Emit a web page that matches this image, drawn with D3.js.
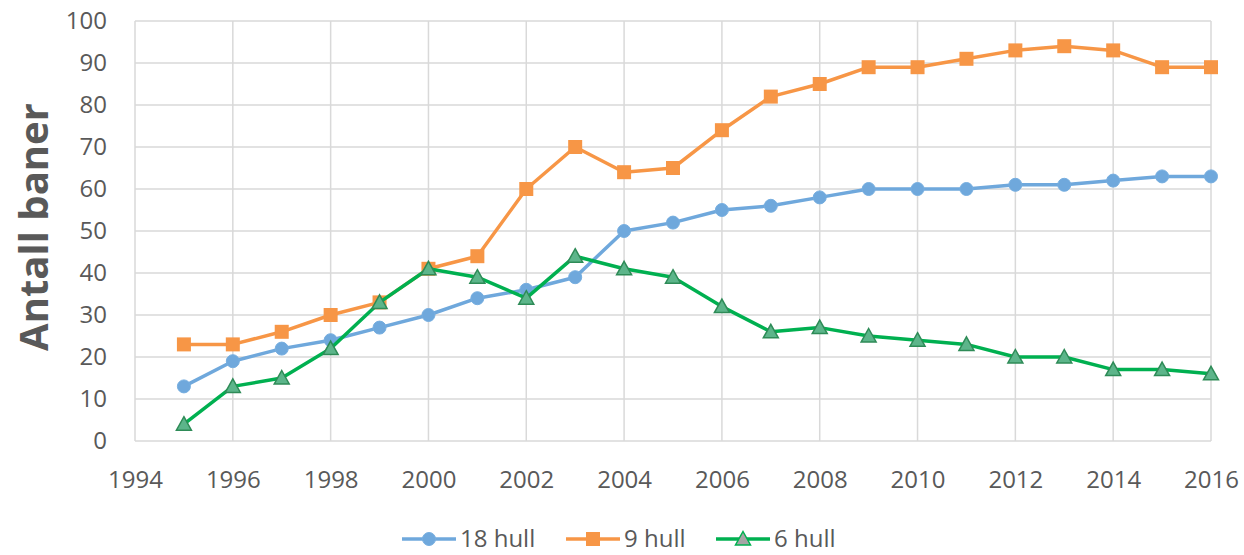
<!DOCTYPE html>
<html>
<head>
<meta charset="utf-8">
<script src="https://cdn.jsdelivr.net/npm/d3@7"></script>
<style>
  body { margin: 0; background: #fff; }
  text { font-family: "Open Sans", "Liberation Sans", sans-serif; fill: #595959; }
</style>
</head>
<body>
<script>
const years = d3.range(1995, 2017);
const hull18 = [13, 19, 22, 24, 27, 30, 34, 36, 39, 50, 52, 55, 56, 58, 60, 60, 60, 61, 61, 62, 63, 63];
const hull9 = [23, 23, 26, 30, 33, 41, 44, 60, 70, 64, 65, 74, 82, 85, 89, 89, 91, 93, 94, 93, 89, 89];
const hull6 = [4, 13, 15, 22, 33, 41, 39, 34, 44, 41, 39, 32, 26, 27, 25, 24, 23, 20, 20, 17, 17, 16];
const xTicks = d3.range(1994, 2017, 2);
const yTicks = d3.range(0, 101, 10);

const width = 1244, height = 555;
const m = {left: 135, right: 33, top: 21, bottom: 114};

const svg = d3.select("body").append("svg")
  .attr("width", width)
  .attr("height", height);

const x = d3.scaleLinear().domain([1994, 2016]).range([m.left, width - m.right]);
const y = d3.scaleLinear().domain([0, 100]).range([height - m.bottom, m.top]);

// grid
svg.append("g")
  .selectAll("line.h")
  .data(yTicks)
  .enter().append("line")
  .attr("x1", x(1994)).attr("x2", x(2016))
  .attr("y1", d => y(d)).attr("y2", d => y(d))
  .attr("stroke", "#d9d9d9").attr("stroke-width", 1.5);

svg.append("g")
  .selectAll("line.v")
  .data(xTicks)
  .enter().append("line")
  .attr("x1", d => x(d)).attr("x2", d => x(d))
  .attr("y1", y(0)).attr("y2", y(100))
  .attr("stroke", "#d9d9d9").attr("stroke-width", 1.5);

// axes
const yAxis = d3.axisLeft(y).tickValues(yTicks).tickSize(0).tickPadding(28);
svg.append("g")
  .attr("transform", "translate(" + m.left + ",0)")
  .call(yAxis)
  .call(g => g.select(".domain").remove())
  .selectAll("text").style("font-size", "24px").attr("fill", "#595959");

const xAxis = d3.axisBottom(x).tickValues(xTicks).tickFormat(d3.format("d")).tickSize(0).tickPadding(30);
svg.append("g")
  .attr("transform", "translate(0," + y(0) + ")")
  .call(xAxis)
  .call(g => g.select(".domain").remove())
  .selectAll("text").style("font-size", "24px").attr("fill", "#595959");

svg.append("text")
  .attr("transform", "translate(48," + (y(50) - 4) + ") rotate(-90)")
  .style("text-anchor", "middle")
  .style("font-size", "40px")
  .style("font-weight", "bold")
  .text("Antall baner");

const series = [
  {name: "18 hull", values: hull18, color: "#6fa8dc", marker: "circle"},
  {name: "9 hull", values: hull9, color: "#f79646", marker: "square"},
  {name: "6 hull", values: hull6, color: "#00b050", marker: "triangle"}
];

const line = d3.line().x((d, i) => x(years[i])).y(d => y(d));

function drawMarker(g, type, cx, cy, legend) {
  if (type === "circle") {
    g.append("circle").attr("cx", cx).attr("cy", cy).attr("r", 6.5)
      .attr("fill", "#6fa8dc").attr("stroke", "#76aee0").attr("stroke-width", 1);
  } else if (type === "square") {
    g.append("rect").attr("x", cx - 7).attr("y", cy - 7).attr("width", 14).attr("height", 14)
      .attr("fill", "#f79646");
  } else {
    const s = 7.5;
    g.append("path")
      .attr("d", `M${cx},${cy - s}L${cx + s},${cy + s * 0.8}L${cx - s},${cy + s * 0.8}Z`)
      .attr("fill", legend ? "#a5a5a5" : "#5cb58a")
      .attr("stroke", legend ? "#00b050" : "#2e8b57").attr("stroke-width", 1.5);
  }
}

series.forEach(s => {
  svg.append("path")
    .datum(s.values)
    .attr("d", line)
    .attr("fill", "none")
    .attr("stroke", s.color)
    .attr("stroke-width", 3.5)
    .attr("stroke-linejoin", "round");
  const g = svg.append("g");
  s.values.forEach((v, i) => drawMarker(g, s.marker, x(years[i]), y(v), false));
});

// legend
const legendX = [402, 566, 716];
const ly = 539;
series.forEach((s, i) => {
  const g = svg.append("g");
  g.append("line").attr("x1", legendX[i]).attr("x2", legendX[i] + 54)
    .attr("y1", ly).attr("y2", ly).attr("stroke", s.color).attr("stroke-width", 3.5);
  drawMarker(g, s.marker, legendX[i] + 27, ly, true);
  g.append("text").attr("x", legendX[i] + 58).attr("y", ly + 8)
    .style("font-size", "24px").text(s.name);
});
</script>
</body>
</html>
